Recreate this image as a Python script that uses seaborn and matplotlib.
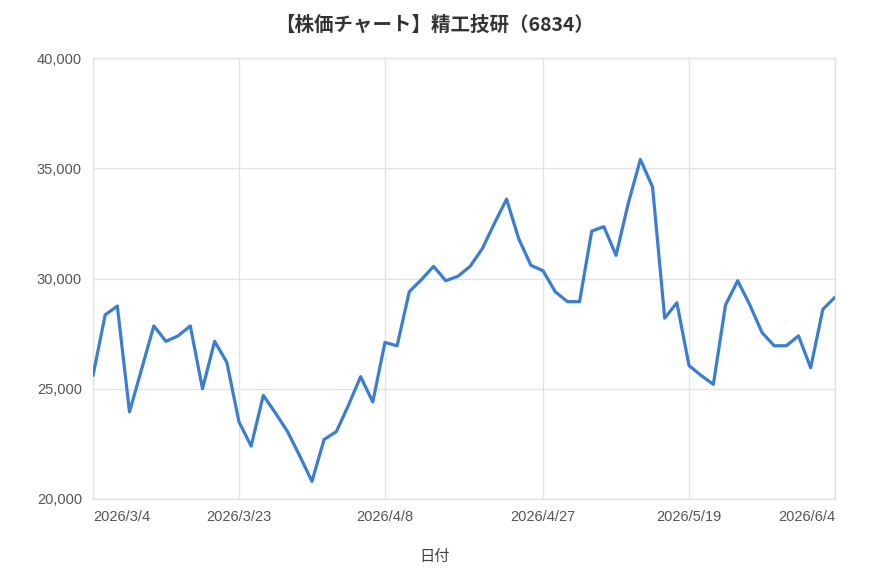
import matplotlib
matplotlib.use("Agg")
import matplotlib.pyplot as plt
import seaborn as sns
import pandas as pd
from matplotlib.ticker import FuncFormatter

dates = [
    "2026/3/4", "2026/3/5", "2026/3/6", "2026/3/9", "2026/3/10", "2026/3/11",
    "2026/3/12", "2026/3/13", "2026/3/16", "2026/3/17", "2026/3/18", "2026/3/19",
    "2026/3/23", "2026/3/24", "2026/3/25", "2026/3/26", "2026/3/27", "2026/3/30",
    "2026/3/31", "2026/4/1", "2026/4/2", "2026/4/3", "2026/4/6", "2026/4/7",
    "2026/4/8", "2026/4/9", "2026/4/10", "2026/4/13", "2026/4/14", "2026/4/15",
    "2026/4/16", "2026/4/17", "2026/4/20", "2026/4/21", "2026/4/22", "2026/4/23",
    "2026/4/24", "2026/4/27", "2026/4/28", "2026/4/30", "2026/5/1", "2026/5/7",
    "2026/5/8", "2026/5/11", "2026/5/12", "2026/5/13", "2026/5/14", "2026/5/15",
    "2026/5/18", "2026/5/19", "2026/5/20", "2026/5/21", "2026/5/22", "2026/5/25",
    "2026/5/26", "2026/5/27", "2026/5/28", "2026/5/29", "2026/6/1", "2026/6/2",
    "2026/6/3", "2026/6/4",
]

prices = [
    25600, 28350, 28750, 23950, 25900, 27850,
    27150, 27400, 27850, 25000, 27150, 26200,
    23500, 22400, 24700, 23900, 23050, 21950,
    20800, 22700, 23050, 24250, 25550, 24400,
    27100, 26950, 29400, 29950, 30550, 29900,
    30100, 30550, 31350, 32500, 33600, 31800,
    30600, 30350, 29400, 28950, 28950, 32150,
    32350, 31050, 33400, 35400, 34150, 28200,
    28900, 26050, 25600, 25200, 28800, 29900,
    28800, 27550, 26950, 26950, 27400, 25950,
    28600, 29150,
]

tick_dates = ["2026/3/4", "2026/3/23", "2026/4/8", "2026/4/27", "2026/5/19", "2026/6/4"]
y_ticks = [20000, 25000, 30000, 35000, 40000]

title = "【株価チャート】精工技研（6834）"
x_label = "日付"

sns.set_style("white")
plt.rcParams["font.family"] = ["Liberation Sans", "Noto Sans CJK JP", "DejaVu Sans"]

df = pd.DataFrame({"date": dates, "price": prices})
df["pos"] = range(len(df))

W, H = 870, 580
fig = plt.figure(figsize=(W / 100, H / 100), dpi=100)
fig.patch.set_facecolor("white")
L, R, T, B = 93, 835, 58, 499
ax = fig.add_axes([L / W, 1 - B / H, (R - L) / W, (B - T) / H])

grid_c = "#e3e3e3"
sns.lineplot(data=df, x="pos", y="price", ax=ax, color="#3a7dd1", linewidth=2.3, zorder=3)

ax.set_xlim(0, len(dates) - 1)
ax.set_ylim(y_ticks[0], y_ticks[-1])
ax.set_yticks(y_ticks)
ax.yaxis.set_major_formatter(FuncFormatter(lambda v, p: f"{v:,.0f}"))
tick_pos = [dates.index(d) for d in tick_dates]
ax.set_xticks(tick_pos)
ax.set_xticklabels(tick_dates)
labels = ax.get_xticklabels()
labels[0].set_ha("left")
labels[-1].set_ha("right")

ax.grid(True, color=grid_c, linewidth=1, zorder=0)
for s in ax.spines.values():
    s.set_color(grid_c)
    s.set_linewidth(1)
ax.tick_params(axis="both", length=0, labelsize=10.5, labelcolor="#555555")
ax.tick_params(axis="y", pad=8)
ax.tick_params(axis="x", pad=8)
ax.set_xlabel("")
ax.set_ylabel("")

fig.text(0.5, 1 - 25 / H, title, ha="center", va="center", fontsize=14, fontweight="bold",
         color="#333333", family=["Noto Sans CJK JP", "DejaVu Sans"])
fig.text(0.5, 1 - 557 / H, x_label, ha="center", va="center", fontsize=11,
         color="#444444", family=["Noto Sans CJK JP", "DejaVu Sans"])

fig.savefig("out.png", dpi=100, facecolor="white")
